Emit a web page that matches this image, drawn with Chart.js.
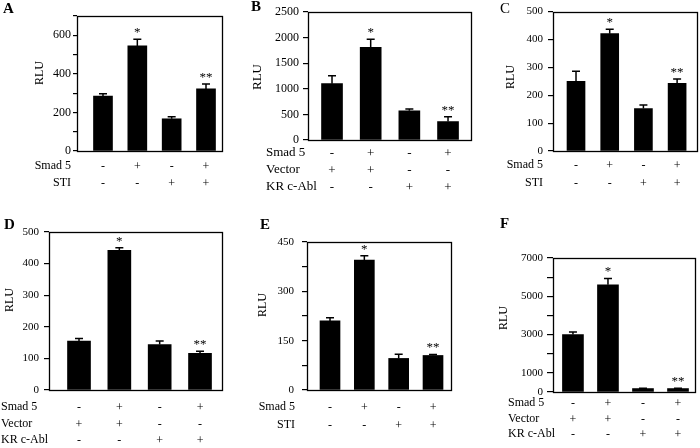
<!DOCTYPE html>
<html lang="en">
<head>
<meta charset="UTF-8">
<title>Smad 5 reporter activity (RLU)</title>
<style>
  body { margin: 0; background: #fff; }
  #fig { position: relative; width: 700px; height: 448px; }
  #fig canvas { position: absolute; }
</style>
</head>
<body>
<div id="fig"></div>
<script src="https://cdn.jsdelivr.net/npm/chart.js"></script>
<script>
// lanes and +/- conditions
const lanes = [1, 2, 3, 4];
const smad5 = ['-', '+', '-', '+'];
const sti = ['-', '-', '+', '+'];
const vector = ['+', '+', '-', '-'];
const krAbl = ['-', '-', '+', '+'];
const stars = ['', '*', '', '**'];

// RLU means and error (upper bar only)
const rluA = [285, 545, 167, 322];
const errA = [12, 35, 11, 26];
const rluB = [1100, 1810, 570, 360];
const errB = [155, 160, 37, 95];
const rluC = [250, 421, 152, 243];
const errC = [36, 16, 13, 15];
const rluD = [155, 442, 144, 116];
const errD = [8, 8, 11, 7];
const rluE = [210, 395, 96, 105];
const errE = [10, 13, 13, 3];
const rluF = [3000, 5600, 180, 180];
const errF = [130, 330, 10, 20];

const FONT = '"Liberation Serif", "Times New Roman", serif';

const stiRows = [['Smad 5', smad5], ['STI', sti]];
const ablRows = [['Smad 5', smad5], ['Vector', vector], ['KR c-Abl', krAbl]];

const panels = [
  { letter: 'A', bold: true, letterAt: [3, 13], canvas: [0, 0, 240, 210], box: [77, 16, 223, 151],
    values: rluA, err: errA, rows: stiRows, rowAlign: 'right', rowX: 71, firstRow: 15, lineH: 17,
    yMax: 700, yStep: 100, show: v => v % 200 === 0, barW: 19, xMin: 0.243, xMax: 4.495,
    fs: 12, yfs: 12, tickLen: 4, tickPad: 2, rlu: [40, 73] },
  { letter: 'B', bold: true, letterAt: [251, 11], canvas: [240, 0, 240, 210], box: [308, 12, 472, 140],
    values: rluB, err: errB, rows: ablRows, rowAlign: 'left', rowX: 266, firstRow: 13, lineH: 17,
    yMax: 2500, yStep: 500, show: v => true, barW: 21, xMin: 0.379, xMax: 4.62,
    fs: 13, yfs: 12, tickLen: 5, tickPad: 4, rlu: [258, 77] },
  { letter: 'C', bold: false, letterAt: [500, 13], canvas: [480, 0, 220, 210], box: [553, 11, 698, 151],
    values: rluC, err: errC, rows: stiRows, rowAlign: 'right', rowX: 543, firstRow: 14, lineH: 18,
    yMax: 500, yStep: 100, show: v => true, barW: 18, xMin: 0.317, xMax: 4.62,
    fs: 12, yfs: 11, tickLen: 5, tickPad: 5, rlu: [511, 77] },
  { letter: 'D', bold: true, letterAt: [4, 229], canvas: [0, 210, 240, 238], box: [49, 232, 223, 390],
    values: rluD, err: errD, rows: ablRows, rowAlign: 'left', rowX: 1, firstRow: 17, lineH: 16.5,
    yMax: 500, yStep: 100, show: v => true, barW: 23, xMin: 0.256, xMax: 4.57,
    fs: 12, yfs: 11, tickLen: 5, tickPad: 5, rlu: [10, 300] },
  { letter: 'E', bold: true, letterAt: [260, 229], canvas: [240, 210, 240, 238], box: [307, 242, 452, 390],
    values: rluE, err: errE, rows: stiRows, rowAlign: 'right', rowX: 295, firstRow: 17, lineH: 18,
    yMax: 450, yStep: 75, show: v => v % 150 === 0, barW: 20, xMin: 0.33, xMax: 4.553,
    fs: 12, yfs: 11, tickLen: 5, tickPad: 8, rlu: [263, 305] },
  { letter: 'F', bold: true, letterAt: [500, 228], canvas: [480, 210, 220, 238], box: [553, 258, 696, 392],
    values: rluF, err: errF, rows: ablRows, rowAlign: 'left', rowX: 508, firstRow: 11, lineH: 15.5,
    yMax: 7000, yStep: 1000, show: v => v === 0 || (v / 1000) % 2 === 1, barW: 21, xMin: 0.43, xMax: 4.514,
    fs: 12, yfs: 11, tickLen: 6, tickPad: 4, rlu: [504, 318] }
];

function makeDecor(p) {
  const ox = p.canvas[0], oy = p.canvas[1];
  return {
    id: 'decor',
    afterDraw(chart) {
      const ctx = chart.ctx, a = chart.chartArea, y = chart.scales.y;
      ctx.save();
      ctx.strokeStyle = '#000';
      ctx.fillStyle = '#000';

      // frame
      ctx.lineWidth = 1.3;
      ctx.strokeRect(Math.round(a.left) + 0.5, Math.round(a.top) + 0.5,
        Math.round(a.right - a.left) - 1, Math.round(a.bottom - a.top));

      // error bars and significance marks
      chart.getDatasetMeta(0).data.forEach((bar, i) => {
        const top = y.getPixelForValue(p.values[i] + p.err[i]);
        ctx.lineWidth = 1.5;
        ctx.beginPath();
        ctx.moveTo(bar.x, bar.y);
        ctx.lineTo(bar.x, top);
        ctx.moveTo(bar.x - 4, top);
        ctx.lineTo(bar.x + 4, top);
        ctx.stroke();
        if (stars[i]) {
          ctx.font = '13px ' + FONT;
          ctx.textAlign = 'center';
          ctx.textBaseline = 'alphabetic';
          ctx.fillText(stars[i], bar.x, top - 3);
        }
      });

      // row names next to the +/- lines
      ctx.font = p.fs + 'px ' + FONT;
      ctx.textBaseline = 'middle';
      ctx.textAlign = p.rowAlign;
      p.rows.forEach((r, k) => {
        ctx.fillText(r[0], p.rowX - ox, a.bottom + p.firstRow + k * p.lineH);
      });

      // panel letter
      ctx.font = (p.bold ? 'bold ' : '') + '15px ' + FONT;
      ctx.textAlign = 'left';
      ctx.textBaseline = 'alphabetic';
      ctx.fillText(p.letter, p.letterAt[0] - ox, p.letterAt[1] - oy);

      // y title
      ctx.font = p.fs + 'px ' + FONT;
      ctx.translate(p.rlu[0] - ox, p.rlu[1] - oy);
      ctx.rotate(-Math.PI / 2);
      ctx.textAlign = 'center';
      ctx.textBaseline = 'middle';
      ctx.fillText('RLU', 0, 0);
      ctx.restore();
    }
  };
}

const fig = document.getElementById('fig');
panels.forEach(p => {
  const [ox, oy, w, h] = p.canvas;
  const cv = document.createElement('canvas');
  cv.width = w;
  cv.height = h;
  cv.style.left = ox + 'px';
  cv.style.top = oy + 'px';
  fig.appendChild(cv);

  new Chart(cv, {
    type: 'bar',
    data: {
      datasets: [{
        data: p.values.map((v, i) => ({ x: lanes[i], y: v })),
        backgroundColor: '#000',
        borderWidth: 0,
        barThickness: p.barW
      }]
    },
    options: {
      responsive: false,
      animation: false,
      layout: { padding: { left: 0, top: p.box[1] - oy, right: ox + w - p.box[2], bottom: 0 } },
      plugins: { legend: { display: false }, tooltip: { enabled: false } },
      scales: {
        x: {
          type: 'linear',
          min: p.xMin,
          max: p.xMax,
          offset: false,
          afterBuildTicks: s => { s.ticks = lanes.map(v => ({ value: v })); },
          afterFit: s => { s.height = oy + h - p.box[3]; },
          grid: { display: false, drawTicks: false, tickLength: 0 },
          border: { display: false },
          ticks: {
            autoSkip: false,
            maxRotation: 0,
            color: '#000',
            padding: p.firstRow - p.lineH / 2 + 1,
            font: { family: FONT, size: p.fs, lineHeight: p.lineH / p.fs },
            callback: v => p.rows.map(r => r[1][lanes.indexOf(v)])
          }
        },
        y: {
          min: 0,
          max: p.yMax,
          afterFit: s => { s.width = p.box[0] - ox; },
          grid: { drawOnChartArea: false, color: '#000', lineWidth: 1.2, tickLength: p.tickLen },
          border: { display: false },
          ticks: {
            stepSize: p.yStep,
            color: '#000',
            padding: p.tickPad,
            font: { family: FONT, size: p.yfs },
            callback: v => p.show(v) ? String(v) : ''
          }
        }
      }
    },
    plugins: [makeDecor(p)]
  });
});
</script>
</body>
</html>
